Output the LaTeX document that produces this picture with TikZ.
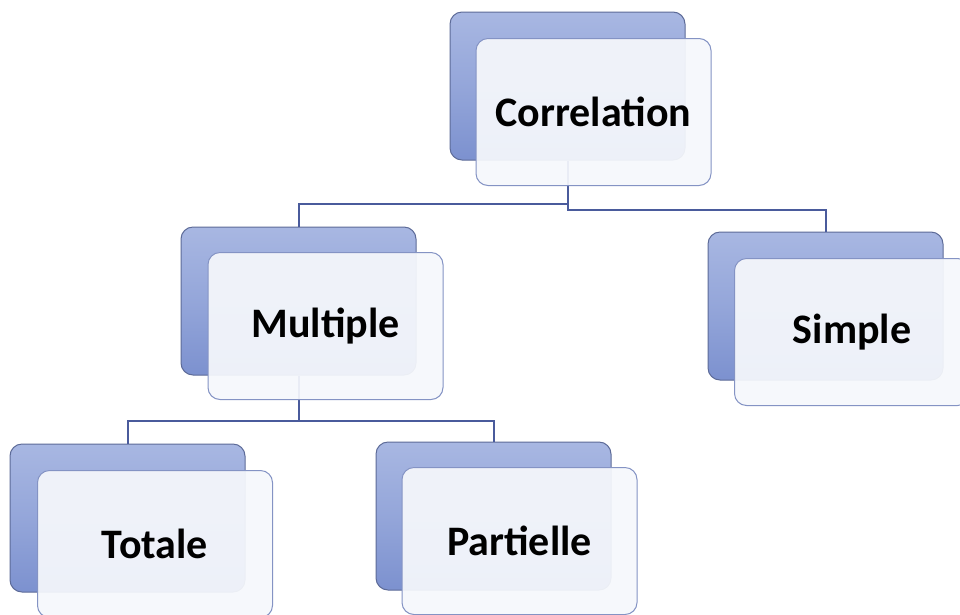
\documentclass[tikz,border=0pt]{standalone}
\usepackage{fontspec}
\setmainfont{Carlito}
\definecolor{backtop}{HTML}{A8B7E2}
\definecolor{backleft}{HTML}{7C91CF}
\definecolor{backdraw}{HTML}{5D6B98}
\definecolor{frontfill}{HTML}{F6F8FC}
\definecolor{frontdraw}{HTML}{8493C4}
\definecolor{linkcol}{HTML}{4A5B9C}
\begin{document}
\begin{tikzpicture}[x=1pt,y=-1pt,
  backbox/.style={draw=backdraw, line width=1pt, rounded corners=12pt,
    top color=backtop, bottom color=backleft, middle color=backtop!55!backleft,
    minimum width=235pt, minimum height=148pt, inner sep=0pt},
  frontbox/.style={draw=frontdraw, line width=1pt, rounded corners=12pt,
    fill=frontfill, fill opacity=0.93, text opacity=1,
    minimum width=235pt, minimum height=147pt, inner sep=0pt,
    font=\fontsize{42}{44}\selectfont\bfseries},
  link/.style={draw=linkcol, line width=2pt}]
\useasboundingbox (0,0) rectangle (960,614);
\clip (0,0) rectangle (960,614);
\fill[white] (0,0) rectangle (960,614);
% back boxes
\node[backbox] (corrB) at (567.5,86) {};
\node[backbox] (multB) at (298.5,301) {};
\node[backbox] (simpB) at (825.5,306) {};
\node[backbox] (totB) at (127.5,518) {};
\node[backbox] (partB) at (493.5,516) {};
% connectors
\coordinate (j1) at (567.5,204);
\coordinate (j2) at (567.5,210);
\coordinate (j3) at (298.5,421);
\draw[link] (corrB.south) -- (j1) -| (multB.north);
\draw[link] (j1) -- (j2) -| (simpB.north);
\draw[link] (multB.south) -- (j3) -| (totB.north);
\draw[link] (j3) -| (partB.north);
% front boxes
\node[frontbox] (corr) at (593.5,112) {Correlation};
\node[frontbox] (mult) at (325.5,326) {Multiple};
\node[frontbox] (simp) at (852,332) {Simple};
\node[frontbox] (tot) at (155,544) {Totale};
\node[frontbox] (part) at (519.5,541) {Partielle};
\end{tikzpicture}
\end{document}
